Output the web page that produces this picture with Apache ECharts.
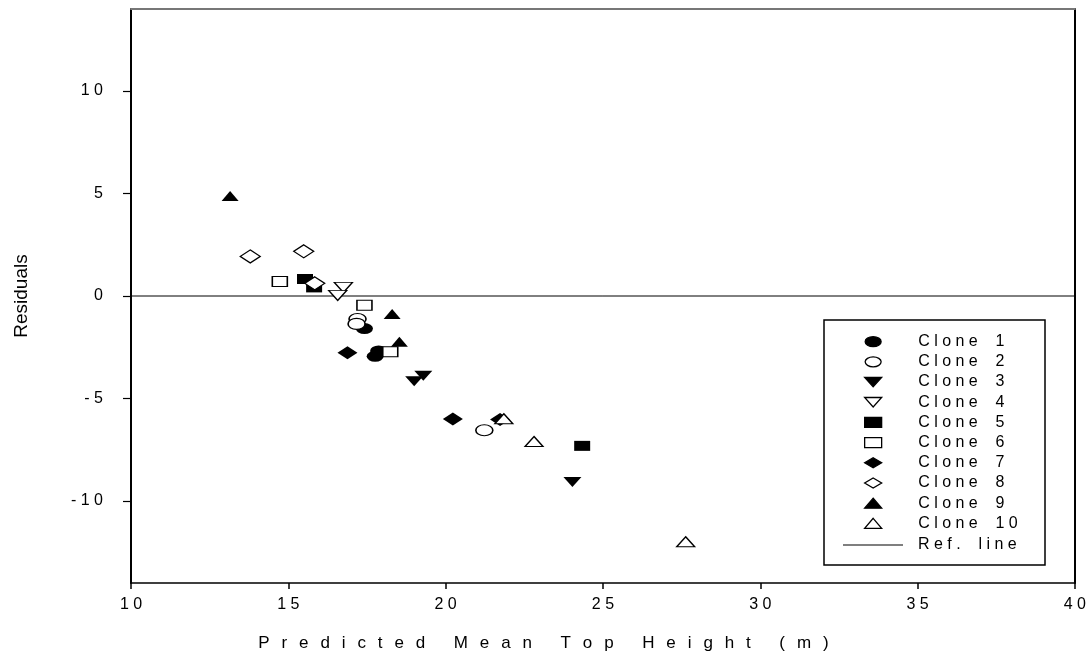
<!DOCTYPE html>
<html>
<head>
<meta charset="utf-8">
<script src="https://cdn.jsdelivr.net/npm/echarts@6/dist/echarts.min.js"></script>
<style>
html,body{margin:0;padding:0;background:#fff;}
#chart{width:1089px;height:657px;}
</style>
</head>
<body>
<div id="chart"></div>
<script>
// ---- data ----
const cloneNames = ['Clone 1','Clone 2','Clone 3','Clone 4','Clone 5','Clone 6','Clone 7','Clone 8','Clone 9','Clone 10'];
const clone1  = [[17.42,-1.59],[17.76,-2.94],[17.87,-2.68]];
const clone2  = [[17.20,-1.12],[17.17,-1.36],[21.23,-6.55]];
const clone3  = [[19.00,-4.16],[19.29,-3.89],[24.03,-9.07]];
const clone4  = [[16.75,0.42],[16.57,0.03]];
const clone5  = [[15.53,0.83],[15.82,0.42],[24.34,-7.31]];
const clone6  = [[14.73,0.71],[17.42,-0.45],[18.24,-2.72]];
const clone7  = [[16.88,-2.77],[20.23,-6.00],[21.73,-6.02]];
const clone8  = [[13.79,1.93],[15.49,2.18],[15.84,0.62]];
const clone9  = [[13.15,4.88],[18.30,-0.88],[18.53,-2.23]];
const clone10 = [[21.85,-5.99],[22.81,-7.10],[27.63,-11.99]];
const refLineName = 'Ref. line';
const refLine = [[10,0],[40,0]];
const xTicks = [10,15,20,25,30,35,40];
const yTicks = [-10,-5,0,5,10];
const xTitle = 'Predicted Mean Top Height (m)';
const yTitle = 'Residuals';

// ---- styling ----
const FONT = '"Liberation Sans", Arial, sans-serif';
const ELLIPSE = 'path://M0,5A8,5 0 1,1 16,5A8,5 0 1,1 0,5Z';
const TRI_DOWN = 'path://M0,0L18,0L9,10Z';
const LINE_ICON = 'path://M0,0L60,0L60,1L0,1Z';
const spaced = (s, sep, wordSep) => Array.from(s).map(c => c === ' ' ? wordSep : c).join(sep);
const tickLabel = v => spaced(String(v), ' ', ' ');
const legendLabel = s => spaced(s, ' ', '  ');

const cloneData = [clone1, clone2, clone3, clone4, clone5, clone6, clone7, clone8, clone9, clone10];
const markers = [
  {symbol: ELLIPSE, size: [17, 11], filled: true},
  {symbol: ELLIPSE, size: [17, 11], filled: false},
  {symbol: TRI_DOWN, size: [18, 10], filled: true},
  {symbol: TRI_DOWN, size: [18, 10], filled: false},
  {symbol: 'rect', size: [16, 10], filled: true},
  {symbol: 'rect', size: [15, 10], filled: false},
  {symbol: 'diamond', size: [20, 13], filled: true},
  {symbol: 'diamond', size: [20, 13], filled: false},
  {symbol: 'triangle', size: [17, 10], filled: true},
  {symbol: 'triangle', size: [18, 10], filled: false}
];

const series = [{
  name: refLineName,
  type: 'line',
  data: refLine,
  symbol: 'none',
  lineStyle: {color: '#000', width: 1},
  itemStyle: {color: '#000'},
  z: 1,
  silent: true
}];
cloneNames.forEach((n, i) => {
  const m = markers[i];
  series.push({
    name: n,
    type: 'scatter',
    data: cloneData[i],
    symbol: m.symbol,
    symbolSize: m.size,
    itemStyle: {
      color: m.filled ? '#000' : '#fff',
      borderColor: '#000',
      borderWidth: m.filled ? 0 : 1.3,
      opacity: 1
    },
    emphasis: {disabled: true},
    z: 3
  });
});

const chart = echarts.init(document.getElementById('chart'), null, {renderer: 'canvas'});
chart.setOption({
  animation: false,
  backgroundColor: '#fff',
  grid: {left: 131, top: 9, width: 945, height: 577, show: false},
  xAxis: [{
    type: 'value', min: 10, max: 40, interval: 5, position: 'bottom',
    axisLine: {onZero: false, lineStyle: {color: '#000', width: 1.5}},
    axisTick: {inside: false, length: 6, lineStyle: {color: '#000', width: 1.5}},
    axisLabel: {formatter: tickLabel, margin: 14, color: '#000', fontSize: 16, fontFamily: FONT},
    splitLine: {show: false},
    name: spaced(xTitle, '\u2002\u2009', ' '),
    nameLocation: 'middle', nameGap: 52,
    nameTextStyle: {color: '#000', fontSize: 17, fontFamily: FONT, padding: [0, 119, 0, 0]}
  }, {
    type: 'value', min: 10, max: 40, position: 'top',
    axisLine: {show: true, onZero: false, lineStyle: {color: '#777', width: 2}},
    axisTick: {show: false}, axisLabel: {show: false}, splitLine: {show: false}
  }],
  yAxis: [{
    type: 'value', min: -14, max: 14, position: 'left',
    axisLine: {onZero: false, lineStyle: {color: '#000', width: 2}},
    axisTick: {inside: false, length: 8, customValues: yTicks, lineStyle: {color: '#000', width: 1.2}},
    axisLabel: {customValues: yTicks, formatter: tickLabel, margin: 28, color: '#000', fontSize: 16, fontFamily: FONT},
    splitLine: {show: false},
    name: yTitle, nameLocation: 'middle', nameGap: 100,
    nameTextStyle: {color: '#000', fontSize: 19, fontFamily: FONT}
  }, {
    type: 'value', min: -14, max: 14, position: 'right',
    axisLine: {show: true, onZero: false, lineStyle: {color: '#000', width: 2}},
    axisTick: {show: false}, axisLabel: {show: false}, splitLine: {show: false}
  }],
  legend: [{
    data: cloneNames,
    orient: 'vertical',
    left: 864, top: 331.6,
    padding: 0, itemGap: 0,
    itemWidth: 17, itemHeight: 10,
    symbolKeepAspect: true,
    selectedMode: false,
    itemStyle: {borderWidth: 1.3},
    formatter: legendLabel,
    textStyle: {color: '#000', fontSize: 16, fontFamily: FONT, lineHeight: 20.18, padding: [0, 0, 0, 31.5]}
  }, {
    data: [{name: refLineName, icon: LINE_ICON}],
    orient: 'vertical',
    left: 843, top: 535,
    padding: 0, itemGap: 0,
    itemWidth: 60, itemHeight: 10,
    symbolKeepAspect: true,
    selectedMode: false,
    itemStyle: {color: '#000', borderWidth: 0},
    formatter: legendLabel,
    textStyle: {color: '#000', fontSize: 16, fontFamily: FONT, lineHeight: 20.18, padding: [0, 0, 0, 10]}
  }],
  graphic: [{
    type: 'rect', z: 0, silent: true,
    shape: {x: 824, y: 320, width: 221, height: 245},
    style: {fill: '#fff', stroke: '#000', lineWidth: 1.5}
  }],
  series: series
});
</script>
</body>
</html>
